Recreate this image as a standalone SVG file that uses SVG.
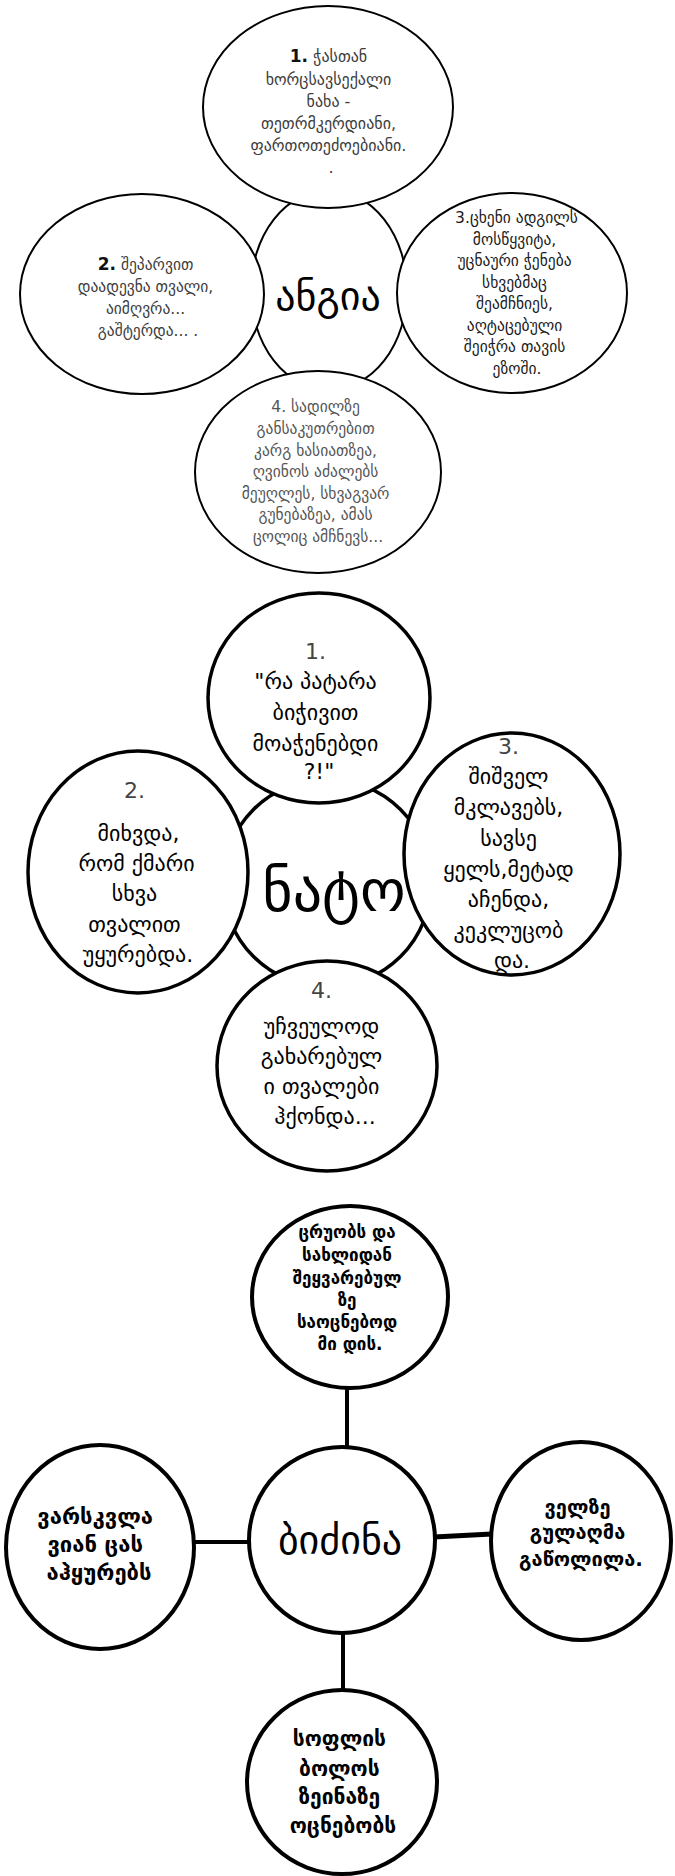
<svg xmlns="http://www.w3.org/2000/svg" width="675" height="1876" viewBox="0 0 675 1876">
<style>
text{font-family:"DejaVu Sans","Noto Sans",sans-serif;text-anchor:middle}
.a{fill:#fff;stroke:#000;stroke-width:2}
.b{fill:#fff;stroke:#000;stroke-width:3.5}
.c{fill:#fff;stroke:#000;stroke-width:4}
.t1{font-size:15.5px;fill:#3c3c3c}
.t1d{font-size:15.5px;fill:#1a1a1a}
.t1g{font-size:15.5px;fill:#555}
.num{font-weight:bold;fill:#111;font-size:17px}
.t2{font-size:22px;fill:#000}
.n2{fill:#444}
.big{font-size:40px;fill:#000}
.t3{font-weight:bold;fill:#000}
.ln{stroke:#000;stroke-width:4;fill:none}
</style>
<rect width="675" height="1876" fill="#fff"/>

<!-- Diagram 1: ანგია -->
<g id="angia-center">
<ellipse class="a" cx="329" cy="290" rx="78" ry="100"/>
<text class="big" x="328" y="310">ანგია</text>
</g>
<g id="angia-1">
<ellipse class="a" cx="328" cy="107" rx="125" ry="101"/>
<text class="t1" style="font-size:16px">
<tspan x="331" y="62"><tspan class="num">1.</tspan>  ჭასთან</tspan>
<tspan x="331" y="85">ხორცსავსექალი</tspan>
<tspan x="331" y="107">ნახა -</tspan>
<tspan x="331" y="129">თეთრმკერდიანი,</tspan>
<tspan x="331" y="151">ფართოთეძოებიანი.</tspan>
<tspan x="331" y="173">.</tspan>
</text>
</g>
<g id="angia-2">
<ellipse class="a" cx="142" cy="294" rx="122" ry="100"/>
<text class="t1">
<tspan x="148" y="270"><tspan class="num">2.</tspan>  შეპარვით</tspan>
<tspan x="148" y="292">დაადევნა თვალი,</tspan>
<tspan x="148" y="314">აიმღვრა...</tspan>
<tspan x="148" y="336">გაშტერდა...  .</tspan>
</text>
</g>
<g id="angia-3">
<ellipse class="a" cx="512" cy="293" rx="115" ry="100"/>
<text class="t1d">
<tspan x="519" y="223">3.ცხენი ადგილს</tspan>
<tspan x="517" y="245">მოსწყვიტა,</tspan>
<tspan x="517" y="266">უცნაური ჭენება</tspan>
<tspan x="517" y="288">სხვებმაც</tspan>
<tspan x="517" y="309">შეამჩნიეს,</tspan>
<tspan x="517" y="331">აღტაცებული</tspan>
<tspan x="517" y="352">შეიჭრა თავის</tspan>
<tspan x="517" y="374">ეზოში.</tspan>
</text>
</g>
<g id="angia-4">
<ellipse class="a" cx="318" cy="472" rx="123" ry="101"/>
<text class="t1g">
<tspan x="318" y="412">4.  სადილზე</tspan>
<tspan x="318" y="434">განსაკუთრებით</tspan>
<tspan x="318" y="456">კარგ ხასიათზეა,</tspan>
<tspan x="318" y="477">ღვინოს აძალებს</tspan>
<tspan x="318" y="499">მეუღლეს, სხვაგვარ</tspan>
<tspan x="318" y="520">გუნებაზეა, ამას</tspan>
<tspan x="318" y="542">ცოლიც ამჩნევს...</tspan>
</text>
</g>

<!-- Diagram 2: ნატო -->
<g id="nato-center">
<circle class="b" cx="327" cy="883" r="104"/>
</g>
<g id="nato-3">
<ellipse class="b" cx="512" cy="854" rx="108" ry="121"/>
<text class="t2">
<tspan class="n2" x="512" y="754">3.</tspan>
<tspan x="512" y="784">შიშველ</tspan>
<tspan x="512" y="815">მკლავებს,</tspan>
<tspan x="512" y="846">სავსე</tspan>
<tspan x="512" y="877">ყელს,მეტად</tspan>
<tspan x="512" y="907">აჩენდა,</tspan>
<tspan x="512" y="938">კეკლუცობ</tspan>
<tspan x="512" y="968">და.</tspan>
</text>
</g>
<g id="nato-1">
<ellipse class="b" cx="319" cy="698" rx="111" ry="105"/>
<text class="t2">
<tspan class="n2" x="319" y="659">1.</tspan>
<tspan x="319" y="689">"რა პატარა</tspan>
<tspan x="319" y="720">ბიჭივით</tspan>
<tspan x="319" y="751">მოაჭენებდი</tspan>
<tspan x="319" y="779">?!"</tspan>
</text>
</g>
<g id="nato-2">
<ellipse class="b" cx="138" cy="872" rx="110" ry="121"/>
<text class="t2">
<tspan class="n2" x="138" y="798">2.</tspan>
<tspan x="142" y="841">მიხვდა,</tspan>
<tspan x="140" y="871">რომ ქმარი</tspan>
<tspan x="138" y="901">სხვა</tspan>
<tspan x="138" y="932">თვალით</tspan>
<tspan x="138" y="962">უყურებდა.</tspan>
</text>
</g>
<g id="nato-4">
<ellipse class="b" cx="327" cy="1066" rx="110" ry="105"/>
<text class="t2">
<tspan class="n2" x="325" y="998">4.</tspan>
<tspan x="325" y="1034">უჩვეულოდ</tspan>
<tspan x="325" y="1064">გახარებულ</tspan>
<tspan x="325" y="1094">ი თვალები</tspan>
<tspan x="325" y="1124">ჰქონდა...</tspan>
</text>
</g>
<g id="nato-label">
<text class="big" style="font-size:58px" x="334" y="911">ნატო</text>
</g>

<!-- Diagram 3: ბიძინა -->
<g id="connectors">
<line class="ln" x1="347" y1="1388" x2="347" y2="1447"/>
<line class="ln" x1="194" y1="1542" x2="250" y2="1542"/>
<line class="ln" style="stroke-width:5" x1="434" y1="1537" x2="492" y2="1534"/>
<line class="ln" x1="343" y1="1633" x2="343" y2="1690"/>
</g>
<g id="bidzina-center">
<ellipse class="c" cx="342" cy="1540" rx="93" ry="93"/>
<text class="big" x="340" y="1554">ბიძინა</text>
</g>
<g id="bidzina-top">
<ellipse class="c" cx="350" cy="1297" rx="98" ry="91"/>
<text class="t3" style="font-size:17px">
<tspan x="350" y="1238">ცრუობს და</tspan>
<tspan x="350" y="1261">სახლიდან</tspan>
<tspan x="350" y="1284">შეყვარებულ</tspan>
<tspan x="350" y="1306">ზე</tspan>
<tspan x="350" y="1328">საოცნებოდ</tspan>
<tspan x="350" y="1350">მი დის.</tspan>
</text>
</g>
<g id="bidzina-left">
<ellipse class="c" cx="100" cy="1547" rx="94" ry="102"/>
<text class="t3" style="font-size:22px">
<tspan x="99" y="1524">ვარსკვლა</tspan>
<tspan x="99" y="1552">ვიან ცას</tspan>
<tspan x="99" y="1580">აჰყურებს</tspan>
</text>
</g>
<g id="bidzina-right">
<ellipse class="c" cx="581" cy="1541" rx="90" ry="99"/>
<text class="t3" style="font-size:20px">
<tspan x="581" y="1514">ველზე</tspan>
<tspan x="581" y="1539">გულაღმა</tspan>
<tspan x="581" y="1566">გაწოლილა.</tspan>
</text>
</g>
<g id="bidzina-bottom">
<ellipse class="c" cx="342" cy="1782" rx="95" ry="92"/>
<text class="t3" style="font-size:21px">
<tspan x="343" y="1746">სოფლის</tspan>
<tspan x="343" y="1776">ბოლოს</tspan>
<tspan x="343" y="1804">ზეინაზე</tspan>
<tspan x="343" y="1833">ოცნებობს</tspan>
</text>
</g>
</svg>
